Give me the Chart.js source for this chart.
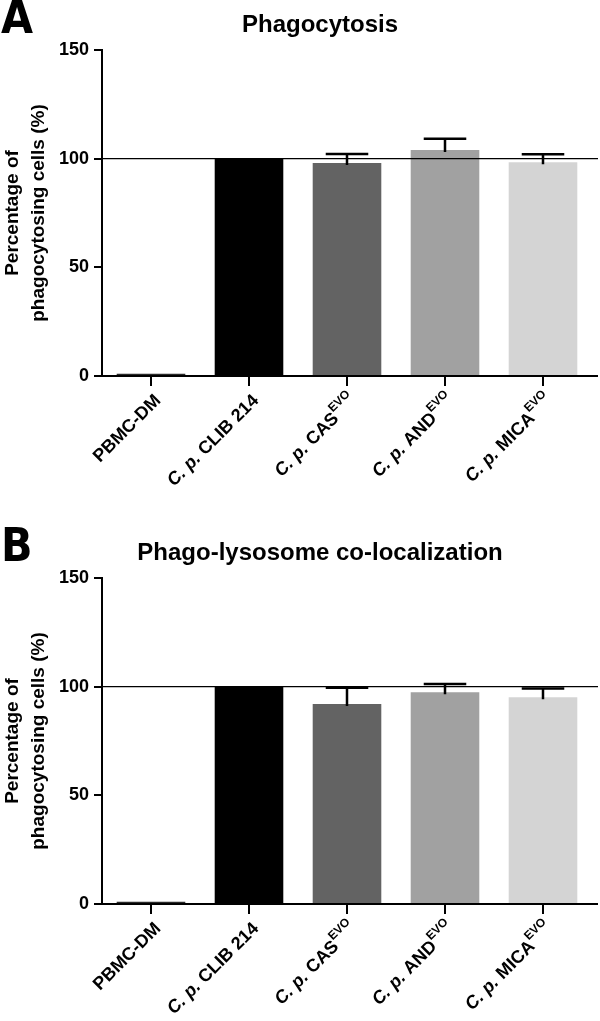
<!DOCTYPE html>
<html>
<head>
<meta charset="utf-8">
<script src="https://cdn.jsdelivr.net/npm/chart.js@4.4.1/dist/chart.umd.min.js"></script>
<style>
  html, body { margin: 0; padding: 0; background: #fff; }
  body { width: 600px; height: 1021px; overflow: hidden; position: relative; font-family: 'Liberation Sans', Arial, sans-serif; }
  .panel { position: absolute; left: 0; width: 600px; height: 528px; }
  .letter { position: absolute; left: 1px; top: -6px; font: bold 46px 'Liberation Sans Narrow', 'DejaVu Sans Condensed', sans-serif; line-height: 46px; }
  .title { position: absolute; left: 0; width: 640px; top: 10px; text-align: center; font: bold 24px 'Liberation Sans', Arial, sans-serif; line-height: 28px; }
  canvas { position: absolute; left: 0; top: 0; }
</style>
</head>
<body>
<div class="panel" style="top:0">
  <canvas id="chartA" width="600" height="528"></canvas>
  <div class="letter">A</div>
  <div class="title">Phagocytosis</div>
</div>
<div class="panel" style="top:528px">
  <canvas id="chartB" width="600" height="528"></canvas>
  <div class="letter">B</div>
  <div class="title">Phago-lysosome co-localization</div>
</div>
<script>
// data
var categories = ['PBMC-DM', 'C. p. CLIB 214', 'C. p. CAS', 'C. p. AND', 'C. p. MICA'];
var superscripts = ['', '', 'EVO', 'EVO', 'EVO'];
var phagoMeans = [1, 100, 98, 104, 98.3];
var phagoErrors = [0, 0, 4.1, 5.2, 3.7];
var colocMeans = [1, 100, 92, 97.4, 95.1];
var colocErrors = [0, 0, 7.5, 3.8, 4.0];
var yTicks = [0, 50, 100, 150];
var barColors = ['#2a2a2a', '#000000', '#636363', '#a1a1a1', '#d4d4d4'];

var FONT = "'Liberation Sans', Arial, sans-serif";

// upward error bars
var errorBars = {
  id: 'errorBars',
  afterDatasetsDraw: function (chart) {
    var ctx = chart.ctx;
    var y = chart.scales.y;
    var ds = chart.data.datasets[0];
    var meta = chart.getDatasetMeta(0);
    ctx.save();
    ctx.strokeStyle = '#000';
    ctx.lineWidth = 2.5;
    meta.data.forEach(function (bar, i) {
      var err = ds.errors[i];
      if (!err) return;
      var top = y.getPixelForValue(ds.data[i] + err);
      var half = bar.width * 0.31;
      ctx.beginPath();
      ctx.moveTo(bar.x, bar.y + 2);
      ctx.lineTo(bar.x, top);
      ctx.moveTo(bar.x - half, top);
      ctx.lineTo(bar.x + half, top);
      ctx.stroke();
    });
    ctx.restore();
  }
};

// x axis line, 100% reference line, rotated labels with superscripts
var axisExtras = {
  id: 'axisExtras',
  afterDraw: function (chart) {
    var ctx = chart.ctx;
    var x = chart.scales.x, y = chart.scales.y;
    var area = chart.chartArea;
    var y0 = y.getPixelForValue(0);
    var y100 = y.getPixelForValue(100);
    ctx.save();
    ctx.strokeStyle = '#000';
    ctx.lineWidth = 1.3;
    ctx.beginPath();
    ctx.moveTo(area.left, y100);
    ctx.lineTo(chart.width - 2, y100);
    ctx.stroke();
    ctx.lineWidth = 2;
    ctx.beginPath();
    ctx.moveTo(area.left - 1, y0);
    ctx.lineTo(chart.width - 2, y0);
    ctx.stroke();

    ctx.fillStyle = '#000';
    ctx.textBaseline = 'middle';
    categories.forEach(function (cat, i) {
      var parts = [];
      if (cat.indexOf('C. p. ') === 0) {
        parts.push({ t: 'C. p.', f: 'italic bold 18px ' + FONT, dy: 0 });
        parts.push({ t: ' ' + cat.slice(6), f: 'bold 18px ' + FONT, dy: 0 });
      } else {
        parts.push({ t: cat, f: 'bold 18px ' + FONT, dy: 0 });
      }
      if (superscripts[i]) parts.push({ t: superscripts[i], f: 'bold 12px ' + FONT, dy: -8 });
      var total = 0;
      parts.forEach(function (p) { ctx.font = p.f; p.w = ctx.measureText(p.t).width; total += p.w; });
      var px = x.getPixelForTick(i) + 7;
      var py = y0 + 22;
      ctx.save();
      ctx.translate(px, py);
      ctx.rotate(-Math.PI / 4);
      var cx = -total;
      parts.forEach(function (p) {
        ctx.font = p.f;
        ctx.fillText(p.t, cx, p.dy);
        cx += p.w;
      });
      ctx.restore();
    });
    ctx.restore();
  }
};

function makeChart(id, means, errors) {
  return new Chart(document.getElementById(id), {
    type: 'bar',
    data: {
      labels: categories,
      datasets: [{
        data: means,
        errors: errors,
        backgroundColor: barColors,
        borderWidth: 0,
        categoryPercentage: 1,
        barPercentage: 0.7
      }]
    },
    options: {
      responsive: false,
      animation: false,
      events: [],
      layout: { padding: { left: 0, right: 8, top: 50, bottom: 0 } },
      plugins: { legend: { display: false }, tooltip: { enabled: false }, title: { display: false } },
      scales: {
        x: {
          offset: true,
          border: { display: false },
          grid: { offset: false, drawOnChartArea: false, drawTicks: true, tickLength: 10, color: '#000', lineWidth: 2 },
          ticks: { display: false },
          afterFit: function (s) { s.height = 152; }
        },
        y: {
          min: 0,
          max: 150,
          border: { display: true, color: '#000', width: 2 },
          grid: { drawOnChartArea: false, drawTicks: true, tickLength: 8, color: '#000', lineWidth: 2 },
          afterBuildTicks: function (s) { s.ticks = yTicks.map(function (v) { return { value: v }; }); },
          ticks: { color: '#000', padding: 5, font: { family: FONT, size: 18, weight: 'bold' } },
          title: {
            display: true,
            text: ['Percentage of', 'phagocytosing cells (%)'],
            color: '#000',
            padding: { top: 0, bottom: 4 },
            font: { family: FONT, size: 19, weight: 'bold', lineHeight: 1.35 }
          },
          afterFit: function (s) { s.width = 102; }
        }
      }
    },
    plugins: [errorBars, axisExtras]
  });
}

makeChart('chartA', phagoMeans, phagoErrors);
makeChart('chartB', colocMeans, colocErrors);
</script>
</body>
</html>
